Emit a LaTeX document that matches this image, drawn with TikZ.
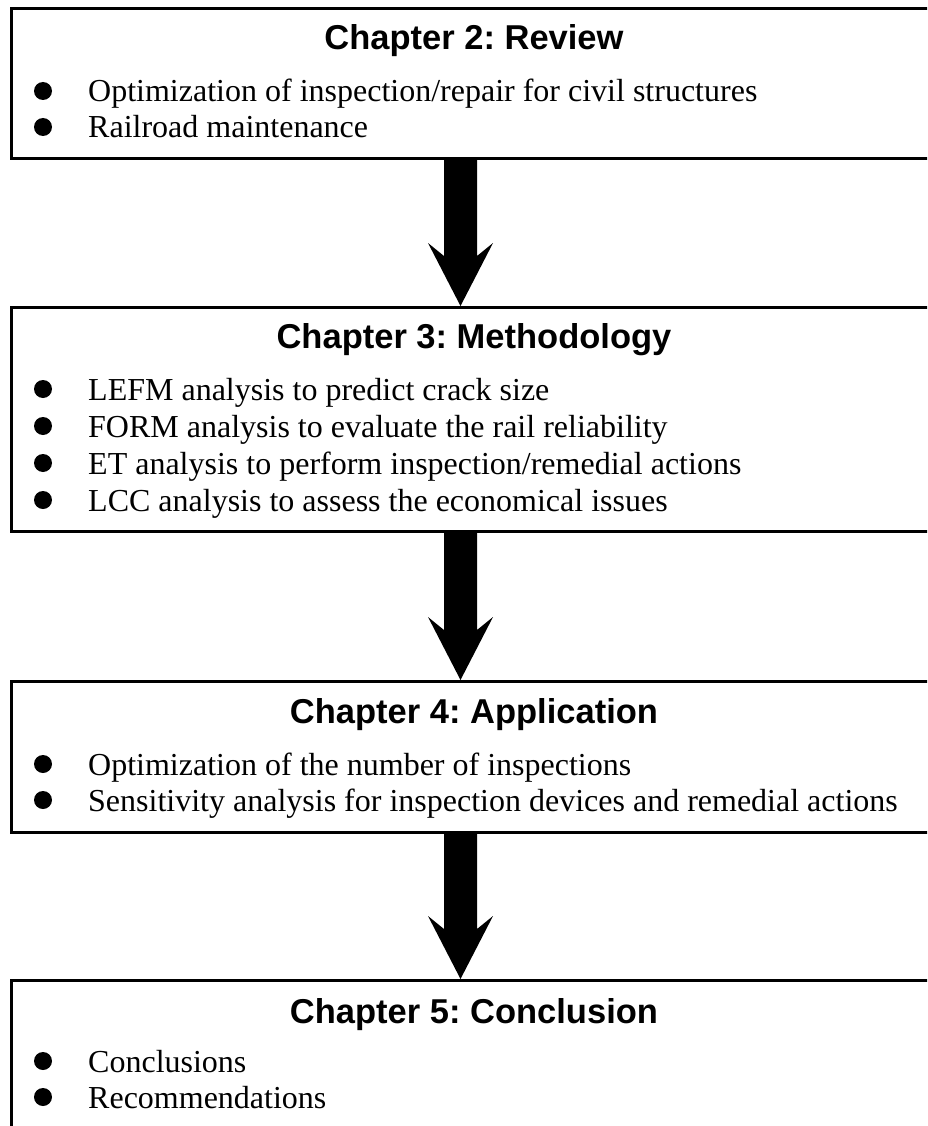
\documentclass[tikz,border=0pt]{standalone}
\usepackage{fontspec}
\setmainfont{Liberation Serif}
\newfontfamily\titlefont{Liberation Sans}
\usetikzlibrary{calc}
\frenchspacing
\begin{document}
\begin{tikzpicture}[x=1pt,y=-1pt,
  chapbox/.style={draw=black, line width=2.8pt, rectangle, anchor=north west, inner sep=0pt, minimum width=935pt},
  ttl/.style={font=\titlefont\bfseries\fontsize{34.5}{40}\selectfont, anchor=base, inner sep=0pt},
  item/.style={font=\fontsize{32}{38}\selectfont, anchor=base west, inner sep=0pt},
  dot/.style={circle, fill=black, minimum size=18pt, inner sep=0pt},
  bigarrow/.style={fill=black}]
\clip (0,0) rectangle (927,1126);
\useasboundingbox (0,0) rectangle (927,1126);
\fill[white] (0,0) rectangle (927,1126);

% boxes
\node[chapbox, minimum height=150pt] (b1) at (10,7) {};
\node[chapbox, minimum height=224pt] (b2) at (10,306) {};
\node[chapbox, minimum height=151pt] (b3) at (10,680) {};
\node[chapbox, minimum height=200pt] (b4) at (10,979) {};

% titles
\node[ttl] (t1) at (474,50) {Chapter 2: Review};
\node[ttl] (t2) at (474,348) {Chapter 3: Methodology};
\node[ttl] (t3) at (474,723) {Chapter 4: Application};
\node[ttl] (t4) at (474,1023) {Chapter 5: Conclusion};

% items
\foreach \n/\y/\txt in {
  i11/102/{Optimization of inspection/repair for civil structures},
  i12/138/{Railroad maintenance},
  i21/400/{LEFM analysis to predict crack size},
  i22/437/{FORM analysis to evaluate the rail reliability},
  i23/474/{ET analysis to perform inspection/remedial actions},
  i24/511/{LCC analysis to assess the economical issues},
  i31/775/{Optimization of the number of inspections},
  i32/811/{Sensitivity analysis for inspection devices and remedial actions},
  i41/1072/{Conclusions},
  i42/1108/{Recommendations}}{
  \node[item] (\n) at (88,\y) {\txt};
  \node[dot] (d\n) at (43,\y-11) {};
}

% arrows
\foreach \s/\e/\k in {b1/b2/1, b2/b3/2, b3/b4/3}{
  \path (\s.south west) ++(450.5,0) coordinate (as\k);
  \path (\e.north west) ++(450.5,0) coordinate (ae\k);
  \fill[bigarrow] ($(as\k)+(-16.5,0)$) -- ($(ae\k)+(-16.5,-50)$) -- ($(ae\k)+(-32.5,-63)$)
    -- (ae\k) -- ($(ae\k)+(32.5,-63)$) -- ($(ae\k)+(16.5,-50)$) -- ($(as\k)+(16.5,0)$) -- cycle;
}
\end{tikzpicture}
\end{document}
